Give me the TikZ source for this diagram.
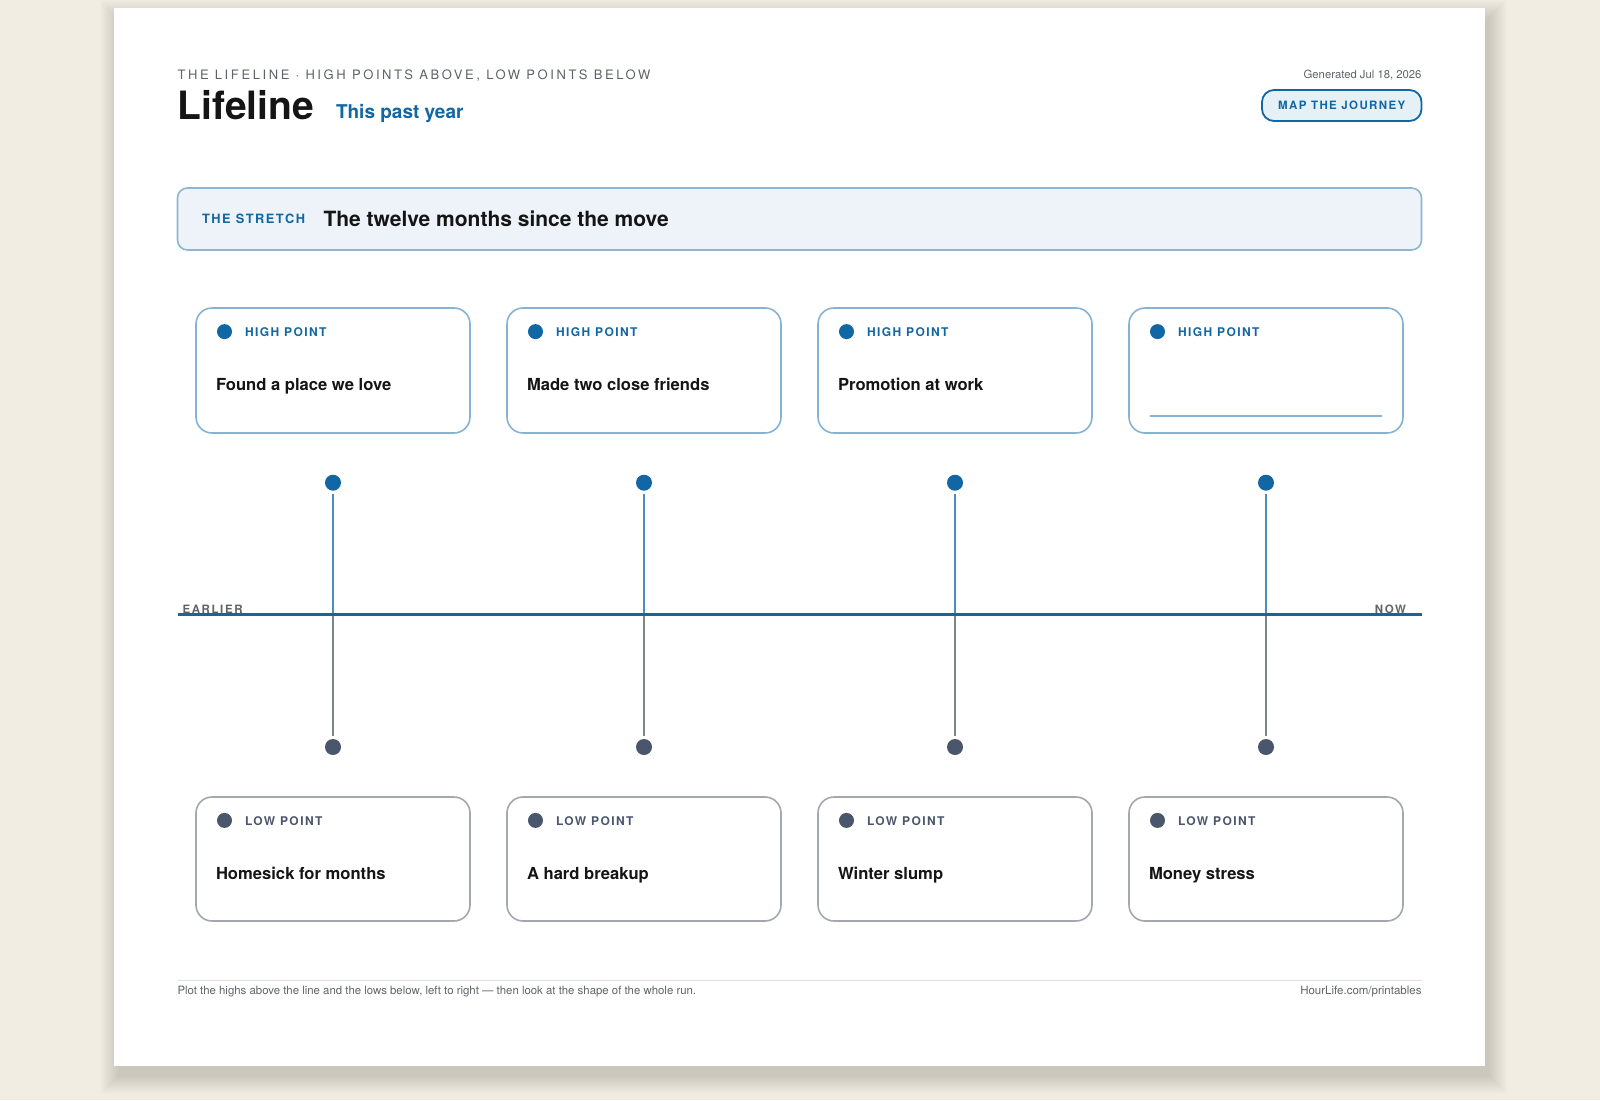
\documentclass[tikz,border=0pt]{standalone}
\usepackage{fontspec}
\setmainfont{TeX Gyre Heros}
\newfontfamily\spaced[LetterSpace=20]{TeX Gyre Heros}
\newfontfamily\spacedb[LetterSpace=14]{TeX Gyre Heros}
\newfontfamily\spacedc[LetterSpace=12]{TeX Gyre Heros}
\definecolor{bgc}{HTML}{F1EDE3}
\definecolor{brand}{HTML}{1167A3}
\definecolor{hiborder}{HTML}{86B3D2}
\definecolor{loborder}{HTML}{A3A7AE}
\definecolor{lodot}{HTML}{4A566B}
\definecolor{lostem}{HTML}{7D848E}
\definecolor{ink}{HTML}{151515}
\definecolor{muted}{HTML}{5F6368}
\definecolor{stretchfill}{HTML}{EDF3F9}
\definecolor{stretchborder}{HTML}{8DB6D3}
\definecolor{btnfill}{HTML}{E6F0F7}
\begin{document}
\begin{tikzpicture}[x=1pt,y=-1pt,
  every node/.style={inner sep=0pt, outer sep=0pt},
  hicard/.style={draw=hiborder, line width=1.6pt, fill=white, rounded corners=16pt},
  locard/.style={draw=loborder, line width=1.6pt, fill=white, rounded corners=16pt},
  hidot/.style={circle, fill=brand, minimum size=16pt},
  lodotst/.style={circle, fill=lodot, minimum size=16pt},
  tag/.style={anchor=base west, font=\spacedc\bfseries\fontsize{12}{14}\selectfont},
  cardtitle/.style={anchor=base west, font=\bfseries\fontsize{16.6}{20}\selectfont, text=ink},
  hstem/.style={draw=brand!75!white, line width=2pt},
  lstem/.style={draw=lostem, line width=2pt}
]
\useasboundingbox (0,0) rectangle (1600,1100);
\fill[bgc] (0,0) rectangle (1600,1100);
% shadow
\foreach \i in {0,...,18}{
  \fill[black, opacity=0.008] (114+4-\i,8+10-\i) rectangle (1485+4+\i,1066+10+\i);
}
% page
\fill[white] (114,8) rectangle (1485,1066);

% header
\node[anchor=base west, font=\spaced\fontsize{13}{15}\selectfont, text=muted] (kicker) at (177.5,79) {THE LIFELINE · HIGH POINTS ABOVE, LOW POINTS BELOW};
\node[anchor=base west, font=\bfseries\fontsize{39}{44}\selectfont, text=ink] (title) at (177.5,119) {Lifeline};
\node[anchor=base west, font=\bfseries\fontsize{19}{22}\selectfont, text=brand] (subtitle) at (336,118.5) {This past year};
\node[anchor=base east, font=\fontsize{11.3}{13}\selectfont, text=muted] (gen) at (1421.5,78.5) {Generated Jul 18, 2026};
\draw[draw=brand, line width=1.8pt, fill=btnfill, rounded corners=12pt] (1262,90) rectangle (1421.5,121);
\node[font=\spacedc\bfseries\fontsize{11.5}{13}\selectfont, text=brand] (btn) at (1341.75,105.5) {MAP THE JOURNEY};

% stretch box
\draw[draw=stretchborder, line width=1.6pt, fill=stretchfill, rounded corners=10pt] (177.5,188) rectangle (1421.5,250);
\node[anchor=base west, font=\spacedc\bfseries\fontsize{12.8}{15}\selectfont, text=brand] (stlabel) at (202,223) {THE STRETCH};
\node[anchor=base west, font=\bfseries\fontsize{21}{25}\selectfont, text=ink] (sttext) at (323.5,226) {The twelve months since the move};

% axis
\coordinate (axL) at (177.5,614);
\coordinate (axR) at (1421.5,614);
\node[anchor=base west, font=\spacedb\bfseries\fontsize{11.5}{13}\selectfont, text=muted] (earlier) at (182.5,613) {EARLIER};
\node[anchor=base east, font=\spacedb\bfseries\fontsize{11.5}{13}\selectfont, text=muted] (now) at (1406,613) {NOW};

% cards
\foreach \i/\x/\hitext/\lotext in {1/196/Found a place we love/Homesick for months,
                           2/507/Made two close friends/A hard breakup,
                           3/818/Promotion at work/Winter slump,
                           4/1129//Money stress}{
  \pgfmathsetmacro{\cx}{\x+137}
  % high card
  \draw[hicard] (\x,308) rectangle (\x+274,433);
  \node[hidot, minimum size=15pt] (hcd\i) at (\x+28.5,331.6) {};
  \node[tag, text=brand] (hct\i) at (\x+49,336.3) {HIGH POINT};
  \node[cardtitle] (hctt\i) at (\x+20,390) {\hitext};
  % low card
  \draw[locard] (\x,797) rectangle (\x+274,921);
  \node[lodotst, minimum size=15pt] (lcd\i) at (\x+28.5,820.4) {};
  \node[tag, text=lodot] (lct\i) at (\x+49,825) {LOW POINT};
  \node[cardtitle] (lctt\i) at (\x+20,879) {\lotext};
  % stems
  \coordinate (ax\i) at (\cx,614);
  \node[hidot] (hd\i) at (\cx,482.7) {};
  \node[lodotst] (ld\i) at (\cx,747) {};
}
\foreach \i in {1,...,4}{
  \draw[hstem, shorten <=3pt] (hd\i) -- (ax\i);
  \draw[lstem, shorten >=3pt] (ax\i) -- (ld\i);
}
\draw[draw=brand, line width=3pt] (axL) -- (axR);
% empty line in card 4
\draw[draw=hiborder, line width=1.2pt] (1150,416) -- (1381.5,416);

% footer
\draw[draw=black!12, line width=1pt] (177.5,980) -- (1421.5,980);
\node[anchor=base west, font=\fontsize{11.4}{13}\selectfont, text=muted] (foot) at (177.5,994.5) {Plot the highs above the line and the lows below, left to right — then look at the shape of the whole run.};
\node[anchor=base east, font=\fontsize{11.5}{13}\selectfont, text=muted] (url) at (1421.5,994.5) {HourLife.com/printables};
\end{tikzpicture}
\end{document}
